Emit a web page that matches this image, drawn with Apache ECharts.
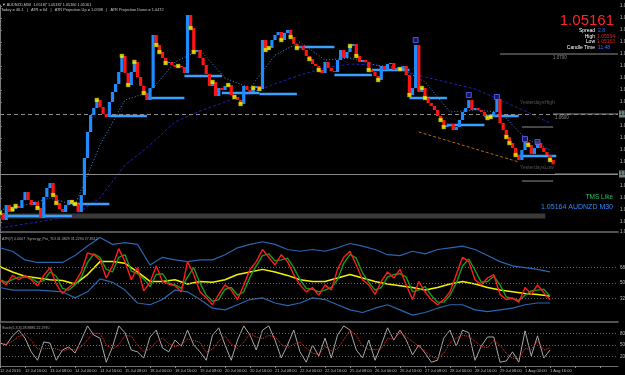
<!DOCTYPE html>
<html><head><meta charset="utf-8">
<script src="https://cdn.jsdelivr.net/npm/echarts@6/dist/echarts.min.js"></script>
<style>html,body{margin:0;padding:0;background:#000;}#c{width:625px;height:375px;}</style>
</head><body><div id="c"></div>
<script>
// ---- data (M30 AUDNZD, sampled every 2 hours) ----
const closes = [1.04350,1.04233,1.04483,1.04367,1.04417,1.04467,1.04433,1.04567,1.04700,1.04567,
1.04483,1.04533,1.04433,1.04267,1.04617,1.04767,1.04850,1.04650,1.04517,1.04417,
1.04367,1.04483,1.04567,1.04533,1.04500,1.04367,1.04650,1.05267,1.05700,1.05983,
1.06100,1.06233,1.06117,1.06000,1.05950,1.06200,1.06367,1.06500,1.06700,1.06967,
1.06683,1.06483,1.06700,1.06867,1.06617,1.06467,1.06350,1.06233,1.06433,1.07317,
1.07150,1.07033,1.06933,1.06850,1.06867,1.06817,1.06783,1.06800,1.06783,1.06683,
1.07650,1.07433,1.07033,1.07067,1.06933,1.06817,1.06667,1.06467,1.06533,1.06300,
1.06433,1.06400,1.06467,1.06483,1.06317,1.06283,1.06233,1.06167,1.06467,1.06400,
1.06367,1.06433,1.06467,1.06417,1.07233,1.07067,1.07100,1.07233,1.07317,1.07367,
1.07233,1.07350,1.07400,1.07283,1.07167,1.07100,1.07133,1.07067,1.06967,1.06917,
1.06833,1.06800,1.06733,1.06683,1.06867,1.06767,1.06717,1.06700,1.06900,1.07067,
1.06933,1.07033,1.07133,1.07167,1.06967,1.06867,1.06900,1.06867,1.06733,1.06700,
1.06633,1.06567,1.06800,1.06733,1.06833,1.06850,1.06733,1.06767,1.06750,1.06800,
1.06650,1.06317,1.06433,1.07150,1.06367,1.06433,1.06267,1.06183,1.06133,1.06067,
1.05967,1.05900,1.05783,1.05817,1.05833,1.05733,1.05783,1.05900,1.06033,1.06100,
1.06233,1.06067,1.06100,1.06067,1.06033,1.05967,1.05933,1.05950,1.06033,1.06250,
1.05850,1.05733,1.05617,1.05517,1.05433,1.05317,1.05233,1.05400,1.05533,1.05483,
1.05333,1.05433,1.05517,1.05433,1.05367,1.05317,1.05233,1.05161];
const dotBars = [0,4,5,12,17,18,23,24,31,39,41,43,46,50,51,53,57,61,62,68,73,75,77,81,83,85,86,90,93,95,99,102,112,114,118,121,128,131,135,136,141,142,156,157,162,163,165,169,172,176];
const boxBars = [133,150,159,168,172];
const boxPrices = [1.07233,1.06317,1.06283,1.05583,1.05533];
const dayStart = [1,23,35,47,59,71,83,95,107,119,131,143,155,166];
const dayEnd   = [23,35,47,59,71,83,95,107,119,131,143,155,166,178];
const dayLevel = [1.04300,1.04500,1.05967,1.06267,1.06633,1.06350,1.06333,1.07117,1.06650,1.06733,1.06267,1.05817,1.05967,1.05300];
// moving averages sampled every 16 hours
const slowMA = [1.04100,1.04167,1.04233,1.04317,1.04600,1.05150,1.05483,1.05867,1.06050,1.06200,1.06350,1.06500,1.06650,1.06767,1.06833,1.06817,1.06733,1.06617,1.06517,1.06417,1.06233,1.06050,1.05850];
const fastMA = [1.04400,1.04483,1.04600,1.04483,1.05483,1.06233,1.06367,1.06867,1.07067,1.06600,1.06433,1.06983,1.07200,1.06900,1.06933,1.06817,1.06767,1.06533,1.06033,1.06067,1.06033,1.05600,1.05400];
// levels: [fromHour, toHour, price]
const pivotFrom = [320,354,334,355,334];
const pivotTo   = [395.5,395.5,354,395.5,354];
const pivotPrice= [1.07000,1.06000,1.05783,1.05000,1.04883];
const yHigh = 1.06233, bidPrice = 1.05161, bandPrice = 1.04300, bandEndHour = 349;
const trendHours = [268,332], trendPrices = [1.05700,1.05200];
// TDI sampled every 4 hours / bands every 8 hours
const tdiRed = [54,48,59,54,59,54,47,59,68,49,38,45,51,63,85,83,77,56,70,90,75,54,68,41,51,70,52,49,47,40,75,60,40,33,25,37,48,42,31,48,66,75,89,80,71,83,75,60,48,40,45,36,48,42,66,80,87,71,54,48,37,52,63,56,66,48,31,52,40,31,25,31,40,60,80,75,54,48,56,60,37,31,33,28,45,37,48,39,31];
const tdiGreen = [54,51,54,57,57,56,51,53,63,58,44,42,48,57,74,84,80,66,63,80,83,64,61,55,46,60,61,50,48,44,57,68,50,36,29,31,43,45,36,40,57,70,82,84,76,77,79,68,54,44,43,40,42,45,54,73,83,79,62,51,42,45,57,60,61,57,40,42,46,36,28,28,36,50,70,78,65,51,52,58,48,34,32,30,36,41,42,43,35];
const tdiUpper = [91,87,77,74,74,74,82,93,103,95,97,95,71,80,77,75,77,77,83,91,95,98,95,89,87,89,87,91,96,93,89,83,82,87,84,89,91,93,89,82,75,70,68,66,63];
const tdiLower = [45,42,42,42,41,40,33,40,55,51,42,27,25,31,42,40,31,21,19,25,31,33,27,24,27,33,31,25,19,16,21,25,19,13,16,21,25,25,19,17,19,21,25,27,27];
const tdiYellow = [69,63,58,56,54,53,49,60,75,75,73,63,52,52,54,49,52,51,54,60,63,66,63,59,54,52,52,56,60,56,52,49,47,45,42,45,49,52,49,45,42,40,38,37,35];
const tdiLevels = [68,50,32];
// Stochastic sampled every 4 hours
const stochK = [55,50,74,89,68,32,10,58,55,10,37,45,29,63,100,76,68,5,45,100,82,37,32,16,71,89,42,32,63,47,89,50,32,10,76,95,50,10,63,100,76,37,89,100,63,16,50,89,32,5,50,21,68,16,76,100,89,37,16,63,10,50,95,63,89,63,24,50,29,5,10,68,89,47,89,82,10,47,71,71,5,8,32,5,87,21,74,16,37];
const stochD = [55,52,60,72,77,62,40,40,41,40,34,40,37,45,64,80,81,50,39,50,75,73,50,33,40,58,68,54,46,50,66,62,57,31,39,60,74,52,41,58,80,71,67,75,71,52,42,52,57,42,29,25,46,35,40,64,88,75,47,38,38,40,67,66,82,72,59,46,34,20,15,28,56,68,75,73,60,46,43,63,49,28,15,15,41,38,61,37,42];
const stochLevels = [80,50,20];
const timeLabels = ["12 Jul 2016","12 Jul 16:00","13 Jul 08:00","14 Jul 00:00","14 Jul 16:00","15 Jul 08:00","18 Jul 00:00","18 Jul 16:00","19 Jul 08:00","20 Jul 00:00","20 Jul 16:00","21 Jul 08:00","22 Jul 00:00","22 Jul 16:00","25 Jul 08:00","26 Jul 00:00","26 Jul 16:00","27 Jul 08:00","28 Jul 00:00","28 Jul 16:00","29 Jul 08:00","1 Aug 00:00","1 Aug 16:00"];

// ---- chart ----
const FONT = '"Liberation Sans", Arial, sans-serif';
const BAR_H = 2, IND_H = 4, BAND_H = 8, MA_H = 16, X_MAX = 395.5;
const chart = echarts.init(document.getElementById('c'), null, {renderer:'canvas'});

function segSeries(name, data, color, width, dash, z){
  return {name, type:'custom', xAxisIndex:0, yAxisIndex:0, z, silent:true, data,
    encode:{x:[0,1], y:2},
    renderItem(params, api){
      const a = api.coord([api.value(0), api.value(2)]);
      const b = api.coord([api.value(1), api.value(2)]);
      return {type:'line', shape:{x1:a[0],y1:a[1],x2:b[0],y2:b[1]},
        style:{stroke:color, lineWidth:width, lineDash:dash||null}};
    }};
}
function lineS(name, xi, arr, step, color, width, type, z){
  return {name, type:'line', xAxisIndex:xi, yAxisIndex:xi, data:arr.map((v,j)=>[j*step, v]),
    symbol:'none', silent:true, z:z||2, lineStyle:{color, width, type:type||'solid'}};
}
const txt = (text, x, y, fill, size, align, extra) => ({type:'text', x, y, silent:true, z:50,
  style:Object.assign({text, fill, fontSize:size, fontFamily:FONT, textAlign:align||'left', textVerticalAlign:'middle'}, extra||{})});

const axisLabelStyle = {color:'#bdbdbd', fontSize:4.5, fontFamily:FONT};
const gridBase = {left:0, right:7, containLabel:false, outerBoundsMode:'none'};
const option = {
  backgroundColor:'#000',
  animation:false,
  grid:[
    Object.assign({top:5, height:227}, gridBase),
    Object.assign({top:234, height:88}, gridBase),
    Object.assign({top:324, height:42}, gridBase)
  ],
  xAxis:[
    {type:'value', gridIndex:0, min:0, max:X_MAX, axisLabel:{show:false}, axisTick:{show:false}, splitLine:{show:false}, axisLine:{show:true, onZero:false, lineStyle:{color:'#6e6e6e', width:1.5}}},
    {type:'value', gridIndex:1, min:0, max:X_MAX, axisLabel:{show:false}, axisTick:{show:false}, splitLine:{show:false}, axisLine:{show:true, onZero:false, lineStyle:{color:'#6e6e6e', width:1.5}}},
    {type:'value', gridIndex:2, min:0, max:X_MAX, interval:16, splitLine:{show:false},
      axisLine:{show:true, onZero:false, lineStyle:{color:'#6e6e6e', width:1}},
      axisTick:{show:true, length:2, lineStyle:{color:'#8a8a8a'}},
      axisLabel:Object.assign({margin:2.5, align:'left', showMinLabel:true, showMaxLabel:false, hideOverlap:false, formatter:v=>timeLabels[Math.round(v/16)]||''}, axisLabelStyle, {fontSize:4})}
  ],
  yAxis:[
    {type:'value', gridIndex:0, position:'right', min:1.040333, max:1.078167, splitNumber:17, minInterval:0.002, maxInterval:0.002,
      splitLine:{show:false}, axisLine:{show:true, lineStyle:{color:'#7a7a7a'}}, axisTick:{show:true, length:2, lineStyle:{color:'#7a7a7a'}},
      axisLabel:Object.assign({margin:2, formatter:v=>v.toFixed(5)}, axisLabelStyle)},
    {type:'value', gridIndex:1, position:'right', min:5, max:107, splitLine:{show:false}, axisLine:{show:true, lineStyle:{color:'#7a7a7a'}}, axisTick:{show:false}, axisLabel:{show:false}},
    {type:'value', gridIndex:2, position:'right', min:-5, max:105, splitLine:{show:false}, axisLine:{show:true, lineStyle:{color:'#7a7a7a'}}, axisTick:{show:false}, axisLabel:{show:false}}
  ],
  series:[
    segSeries('band', [[0, bandEndHour, bandPrice]], '#3a3a3a', 5, null, 1),
    segSeries('pivots', pivotFrom.map((f,i)=>[f, pivotTo[i], pivotPrice[i]]), '#8c8c8c', 1, null, 2),
    Object.assign(lineS('slowMA', 0, slowMA, MA_H, '#1f1fb0', 1, [3,2], 3), {
      markLine:{symbol:'none', silent:true, animation:false,
        data:[
          {yAxis:yHigh, lineStyle:{color:'#8a8a8a', width:1, type:[4,3]}},
          {yAxis:bidPrice, lineStyle:{color:'#8a8a8a', width:1, type:'solid'}}
        ],
        label:{position:'end', distance:1, formatter:p=>p.value.toFixed(5), fontSize:4.5, fontFamily:FONT, color:'#000', backgroundColor:'#6f8080', padding:[1,1]}
      }}),
    lineS('fastMA', 0, fastMA, MA_H, '#3a8ee6', 1, [1,2], 3),
    {name:'trend', type:'line', xAxisIndex:0, yAxisIndex:0, data:trendHours.map((h,i)=>[h, trendPrices[i]]), symbol:'none', silent:true, z:3, lineStyle:{color:'#b86418', width:1, type:[3,2]}},
    segSeries('daily', dayStart.map((s,i)=>[s*BAR_H, dayEnd[i]*BAR_H, dayLevel[i]]), '#39a0ff', 2.5, null, 4),
    {name:'price', type:'custom', xAxisIndex:0, yAxisIndex:0, z:5, silent:true,
      data:closes.map((c,i)=>[i*BAR_H, i>0?closes[i-1]:c, c]),
      encode:{x:0, y:[1,2]},
      renderItem(params, api){
        const x = api.value(0), o = api.value(1), c = api.value(2);
        const p1 = api.coord([x,o]), p2 = api.coord([x,c]);
        const w = 3.2, top = Math.min(p1[1],p2[1]), h = Math.max(1, Math.abs(p1[1]-p2[1]));
        return {type:'rect', shape:{x:p1[0]-w/2, y:top, width:w, height:h}, style:{fill: c>=o ? '#1e8cff' : '#ff1414'}};
      }},
    {name:'dots', type:'scatter', xAxisIndex:0, yAxisIndex:0, z:6, silent:true, symbol:'rect', symbolSize:4,
      data:dotBars.map(i=>[i*BAR_H, closes[i]]), itemStyle:{color:'#ffff00', borderColor:'#8a8a00', borderWidth:0.5}},
    {name:'boxes', type:'scatter', xAxisIndex:0, yAxisIndex:0, z:6, silent:true, symbol:'rect', symbolSize:5,
      data:boxBars.map((i,k)=>[i*BAR_H, boxPrices[k]]), itemStyle:{color:'#1c1c8a', borderColor:'#5a6cff', borderWidth:1}},
    // TDI
    Object.assign(lineS('upper', 1, tdiUpper, BAND_H, '#2a65b0', 1.2), {
      markLine:{symbol:'none', silent:true, animation:false,
        data:tdiLevels.map(v=>({yAxis:v})), lineStyle:{color:'#6a6a6a', width:1, type:[1,2]},
        label:{position:'end', distance:2, formatter:p=>String(p.value), fontSize:4.5, fontFamily:FONT, color:'#bdbdbd'}}}),
    lineS('lower', 1, tdiLower, BAND_H, '#2a65b0', 1.2),
    lineS('yellow', 1, tdiYellow, BAND_H, '#f2f200', 1.5, 'solid', 3),
    lineS('green', 1, tdiGreen, IND_H, '#169c16', 1.4, 'solid', 4),
    lineS('red', 1, tdiRed, IND_H, '#ff1c1c', 1.4, 'solid', 5),
    // Stochastic
    Object.assign(lineS('stochK', 2, stochK, IND_H, '#a8a8a8', 1), {
      markLine:{symbol:'none', silent:true, animation:false,
        data:stochLevels.map(v=>({yAxis:v})).concat([{yAxis:100, lineStyle:{opacity:0}},{yAxis:0, lineStyle:{opacity:0}}]),
        lineStyle:{color:'#6a6a6a', width:1, type:[1,2]},
        label:{position:'end', distance:2, formatter:p=>String(p.value), fontSize:4.5, fontFamily:FONT, color:'#bdbdbd'}}}),
    lineS('stochD', 2, stochD, IND_H, '#ff2b2b', 1, [1,1], 3)
  ],
  graphic:[
    txt('\u25BC AUDNZD,M30  1.05187 1.05187 1.05160 1.05161', 2, 4.5, '#c8c8c8', 3.8),
    txt('Today = 46.1   |   ATR = 64   |   ATR Projection Up = 1.0598   |   ATR Projection Down = 1.0472', 1, 10, '#c8c8c8', 3.9),
    txt('1.05161', 614, 21, '#ff2424', 15, 'right'),
    txt('Spread', 595, 31, '#ffffff', 5, 'right'), txt('2.8', 598, 31, '#3a6cff', 5),
    txt('High', 595, 36.5, '#ffffff', 5, 'right'), txt('1.05564', 597, 36.5, '#e02020', 5),
    txt('Low', 595, 42, '#ffffff', 5, 'right'), txt('1.05163', 597, 42, '#e02020', 5),
    txt('Candle Time', 595, 47.5, '#ffffff', 5, 'right'), txt('11:48', 598, 47.5, '#3a6cff', 5),
    txt('1.0700', 553, 57.5, '#8c8c8c', 4.5), txt('1.0600', 555, 117.5, '#8c8c8c', 4.5),
    txt('YesterdaysHigh', 520, 103, '#555555', 5), txt('YesterdaysLow', 520, 168, '#555555', 5),
    txt('TMS Like', 613, 197, '#22c06a', 6.5, 'right'),
    txt('1.05164 AUDNZD M30', 613, 207, '#2a8cff', 7, 'right'),
    txt('ATR(7) 0.0007  Synergy_Pro_TDI 41.3829 31.2294 27.8512', 2, 238.5, '#a8a8a8', 3.6),
    txt('Stoch(5,3,3) 28.8885 22.2970', 2, 327.5, '#a8a8a8', 3.6)
  ]
};
chart.setOption(option);
</script></body></html>
